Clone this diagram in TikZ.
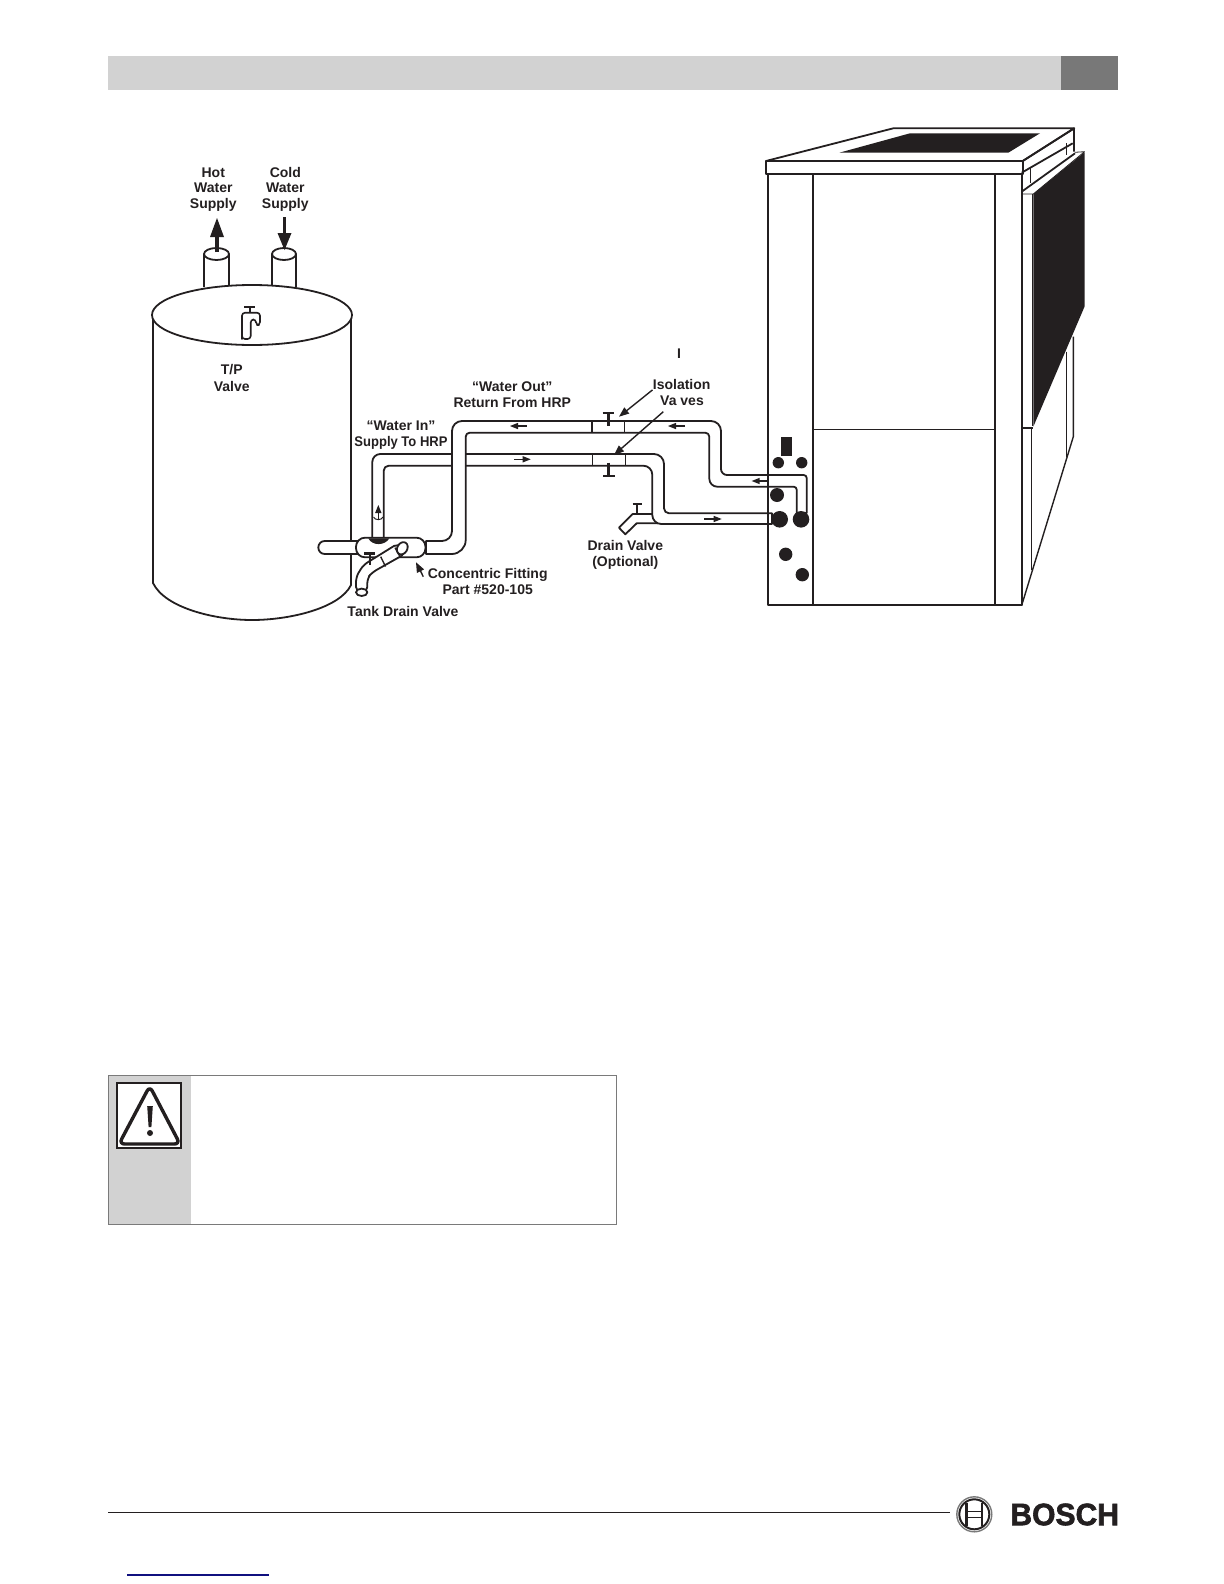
\documentclass[tikz,border=0pt]{standalone}
\usepackage{fontspec}
\setmainfont{Liberation Sans}
\newfontfamily\brandfont[FakeBold=2]{Liberation Sans Bold}
\usetikzlibrary{positioning}
\definecolor{headgray}{HTML}{D2D2D2}
\definecolor{tabgray}{HTML}{787878}
\definecolor{boxgray}{HTML}{7A7A7A}
\definecolor{inkblack}{HTML}{231F20}
\definecolor{linknavy}{HTML}{10107F}
\begin{document}
\begin{tikzpicture}[x=0.5pt,y=0.5pt]
	\tikzstyle{every node}+=[inner sep=0pt]
	\tikzstyle{lbl}=[font=\fontsize{7}{8}\selectfont\bfseries, text=inkblack, align=center, text height=5.2pt, text depth=0pt]
	\tikzstyle{outline}=[draw=inkblack, line width=0.9pt, line join=round]
	\tikzstyle{pipe}=[outline, fill=white]
	\tikzstyle{thin arrow}=[draw=inkblack, line width=0.7pt]
	\useasboundingbox (0,0) rectangle (1224,-1584);
	\fill [headgray] (108,-56) rectangle (1061,-90);
	\fill [tabgray] (1061,-56) rectangle (1118,-90);
	\draw [outline] (153,-318) -- (153,-583) .. controls (165,-608) and (215,-620) .. (252,-620) .. controls (290,-620) and (340,-608) .. (351,-585) -- (351,-318);
	\draw [pipe] (204,-287) -- (204,-254) arc (180:0:12.5 and 6) -- (229,-287);
	\draw [outline] (204,-254) arc (180:360:12.5 and 6);
	\draw [pipe] (272,-287) -- (272,-254) arc (180:0:12 and 6) -- (296,-287);
	\draw [outline] (272,-254) arc (180:360:12 and 6);
	\draw [pipe] (252,-315) ellipse (100 and 30);
	\draw [inkblack, line width=1.6pt] (217,-252) -- (217,-235);
	\fill [inkblack] (217,-218) -- (224,-237) -- (210,-237) -- cycle;
	\draw [inkblack, line width=1.6pt] (284.5,-217) -- (284.5,-235);
	\fill [inkblack] (284.5,-250) -- (291.5,-233) -- (277.5,-233) -- cycle;
	\node [lbl] (hotline1) at (213.3,-172) {Hot};
	\node [lbl] (hotline2) at (213.3,-187.7) {Water};
	\node [lbl] (hotline3) at (213.3,-203.3) {Supply};
	\node [lbl] (coldline1) at (285.3,-172) {Cold};
	\node [lbl] (coldline2) at (285.3,-187.7) {Water};
	\node [lbl] (coldline3) at (285.3,-203.3) {Supply};
	\draw [outline, rounded corners=1.5pt, line width=0.8pt] (242,-336) -- (242,-312.7) -- (260,-312.7) -- (260,-325) -- (256,-325) -- (256,-319.5) -- (250.7,-319.5) -- (250.7,-339) -- (242,-339) -- cycle;
	\draw [inkblack, line width=0.9pt] (244.3,-307.3) -- (255,-307.3);
	\draw [inkblack, line width=0.9pt] (250,-307.3) -- (250,-313);
	\node [lbl] (tpline1) at (231.7,-369.3) {T/P};
	\node [lbl] (tpline2) at (231.7,-386.3) {Valve};
	\draw [pipe] (632.7,-514) -- (619,-527.7) -- (625.3,-534.3) -- (636.7,-523.3) -- (658,-523.3) -- (658,-514) -- cycle;
	\draw [pipe] (372.3,-542) [rounded corners=4pt] -- (372.3,-454) [rounded corners=5pt] -- (664,-454) [rounded corners=2.5pt] -- (664,-513.3) [sharp corners] -- (772,-513.3) -- (772,-524) [rounded corners=4.5pt] -- (652.3,-524) -- (652.3,-465.7) [rounded corners=2.5pt] -- (383.7,-465.7) [sharp corners] -- (383.7,-542) -- cycle;
	\draw [pipe] (426,-541) [rounded corners=5pt] -- (452,-541) -- (452,-421) -- (721,-421) [rounded corners=3pt] -- (721,-475) [rounded corners=1.5pt] -- (806.7,-475) [sharp corners] -- (806.7,-513) -- (796.7,-513) [rounded corners=1.5pt] -- (796.7,-486.7) [rounded corners=4pt] -- (709.3,-486.7) [rounded corners=2pt] -- (709.3,-432.7) -- (465.7,-432.7) [rounded corners=7pt] -- (465.7,-554) [sharp corners] -- (426,-554) -- cycle;
	\draw [outline, line width=0.7pt] (592,-421) -- (592,-432.7);
	\draw [outline, line width=0.7pt] (624.3,-421) -- (624.3,-432.7);
	\draw [outline, line width=0.7pt] (592.3,-454) -- (592.3,-465.7);
	\draw [outline, line width=0.7pt] (625.3,-454) -- (625.3,-465.7);
	\draw [inkblack, line width=1.2pt] (602.7,-412.7) -- (614,-412.7);
	\draw [inkblack, line width=1.4pt] (608.3,-412.7) -- (608.3,-426);
	\draw [inkblack, line width=1.2pt] (603,-476) -- (614.5,-476);
	\draw [inkblack, line width=1.4pt] (608.7,-462.7) -- (608.7,-476);
	\draw [thin arrow] (526.7,-426) -- (515,-426);
	\fill [inkblack] (510,-426) -- (518,-422.8) -- (518,-429.2) -- cycle;
	\draw [thin arrow] (685,-426) -- (673,-426);
	\fill [inkblack] (668,-426) -- (676,-422.8) -- (676,-429.2) -- cycle;
	\draw [thin arrow] (514,-459.3) -- (526,-459.3);
	\fill [inkblack] (530.7,-459.3) -- (522.7,-456.1) -- (522.7,-462.5) -- cycle;
	\draw [thin arrow] (768,-481) -- (757,-481);
	\fill [inkblack] (751.7,-481) -- (759.7,-477.8) -- (759.7,-484.2) -- cycle;
	\draw [thin arrow] (704,-519) -- (716,-519);
	\fill [inkblack] (721.7,-519) -- (713.7,-515.8) -- (713.7,-522.2) -- cycle;
	\draw [thin arrow] (378.3,-520) -- (378.3,-510);
	\fill [inkblack] (378.3,-505) -- (381.5,-513) -- (375.1,-513) -- cycle;
	\draw [outline, line width=0.5pt] (373.5,-517) .. controls (375,-520.5) and (381.5,-520.5) .. (383,-517);
	\draw [inkblack, line width=0.9pt] (632.7,-504) -- (642,-504);
	\draw [inkblack, line width=0.9pt] (637.3,-504) -- (637.3,-514);
	\draw [pipe, rounded corners=3.2pt] (380,-541) -- (318.3,-541) -- (318.3,-554) -- (380,-554) -- cycle;
	\draw [pipe, rounded corners=4.5pt] (356,-537.7) rectangle (425.5,-557.3);
	\fill [inkblack] (368.3,-538.3) -- (389.3,-538.3) .. controls (385,-546) and (372,-546) .. (368.3,-538.3);
	\draw [pipe, rounded corners=2.5pt] (398.3,-543.3) -- (363.3,-565) -- (356,-577) -- (356,-592) -- (367.3,-592) -- (367.3,-578.3) -- (372,-572.5) -- (406,-553.3) -- cycle;
	\draw [pipe, rotate around={-30:(402.3,-548.3)}] (402.3,-548.3) ellipse (5 and 6.5);
	\draw [outline, line width=0.7pt] (380.7,-556.7) -- (385.5,-566.5);
	\draw [outline, line width=0.7pt] (395,-547.7) -- (400,-556.7);
	\draw [pipe] (361.7,-592.3) ellipse (5.7 and 3.7);
	\draw [inkblack, line width=1.2pt] (364,-553.3) -- (375,-553.3);
	\draw [inkblack, line width=1.4pt] (370,-553.3) -- (370,-565);
	\node [lbl] (waterinline1) at (401,-425.7) {“Water In”};
	\node [lbl, xscale=0.93] (waterinline2) at (401,-441.7) {Supply To HRP};
	\node [lbl] (wateroutline1) at (512.3,-386.3) {“Water Out”};
	\node [lbl] (wateroutline2) at (512.3,-402.3) {Return From HRP};
	\node [lbl] (mark) at (679,-353.5) {I};
	\node [lbl] (isolation) at (681.7,-384.3) {Isolation};
	\node [lbl] (valves) at (682,-400) {Va ves};
	\coordinate (topvalve) at (619,-416.7);
	\coordinate (bottomvalve) at (614,-455);
	\coordinate (valvestail) at (663.3,-411.7);
	\draw [thin arrow] (isolation.south west) -- (625,-412);
	\fill [inkblack] (topvalve) -- (629.3,-413.5) -- (624.3,-407.3) -- cycle;
	\draw [thin arrow] (valvestail) -- (620,-449.7);
	\fill [inkblack] (bottomvalve) -- (624.1,-451.4) -- (618.9,-445.4) -- cycle;
	\node [lbl] (drainline1) at (625.3,-545) {Drain Valve};
	\node [lbl] (drainline2) at (625.3,-561) {(Optional)};
	\node [lbl] (fittingline1) at (487.7,-573.3) {Concentric Fitting};
	\node [lbl] (fittingline2) at (487.7,-589) {Part \#520-105};
	\node [lbl] (tankdrain) at (403,-611.3) {Tank Drain Valve};
	\coordinate (fittingtip) at (416,-562.3);
	\coordinate (fittingtail) at (423.3,-576.7);
	\draw [thin arrow] (fittingtail) -- (419.5,-569);
	\fill [inkblack] (fittingtip) -- (424.1,-569.4) -- (416.9,-573) -- cycle;
	\draw [outline] (766,-161) -- (893.3,-128.3) -- (1074.3,-128.3) -- (1022.7,-161);
	\fill [inkblack] (839.3,-152.7) -- (910,-133.3) -- (1040,-133.3) -- (1008.3,-152.7) -- cycle;
	\draw [outline, line width=1.1pt] (766,-161) rectangle (1022.7,-174.3);
	\draw [outline, line width=1.1pt] (767.7,-174.3) rectangle (1021.7,-605.3);
	\draw [outline] (813,-174.3) -- (813,-605.3);
	\draw [outline] (995,-174.3) -- (995,-605.3);
	\draw [outline, line width=0.7pt] (813,-429.3) -- (995,-429.3);
	\fill [inkblack] (1033.3,-194) -- (1084.5,-152.3) -- (1084.5,-306.7) -- (1033.3,-426.7) -- cycle;
	\draw [outline] (1021.7,-161.7) -- (1074,-128.3) -- (1074,-151.7);
	\draw [outline] (1021.7,-172.7) -- (1072.7,-143.3);
	\draw [outline] (1021.7,-191.7) -- (1075,-153.3);
	\draw [outline, line width=0.7pt] (1030.7,-168) -- (1030.7,-183);
	\draw [outline, line width=0.7pt] (1066.7,-143) -- (1066.7,-155);
	\draw [outline, line width=0.4pt] (1075,-152.3) -- (1084.5,-151.7) -- (1033.3,-194) -- (1021.7,-194);
	\draw [outline, line width=0.6pt] (1021.7,-194) -- (1021.7,-605.3);
	\draw [outline, line width=0.6pt] (1032.7,-194) -- (1032.7,-426);
	\draw [outline, line width=0.6pt] (1021.7,-428) -- (1033,-428);
	\draw [outline, line width=0.4pt] (1031,-428) -- (1031,-570);
	\draw [outline, line width=0.7pt] (1021.7,-605.3) -- (1073.3,-436.7) -- (1073.3,-336.7);
	\draw [outline, line width=0.4pt] (1066.7,-351.7) -- (1066.7,-456.7);
	\fill [inkblack] (781,-437) rectangle (792,-456);
	\fill [inkblack] (778.3,-462.7) circle (5.7);
	\fill [inkblack] (801.7,-462.7) circle (5.7);
	\fill [inkblack] (777,-495) circle (7);
	\fill [inkblack] (779.7,-519.3) circle (8.3);
	\fill [inkblack] (801,-519.3) circle (8.3);
	\fill [inkblack] (785.7,-554.3) circle (6.7);
	\fill [inkblack] (802.3,-574.7) circle (6.7);
	\fill [headgray] (108,-1075) rectangle (191,-1224);
	\draw [boxgray, line width=0.45pt] (108,-1075) rectangle (616,-1224);
	\draw [inkblack, fill=white, line width=1.1pt] (116.7,-1083.3) rectangle (181.3,-1148);
	\draw [inkblack, line width=1.7pt, rounded corners=2.8pt, line join=round] (149.7,-1086) -- (119,-1144) -- (180,-1144) -- cycle;
	\fill [inkblack] (147.2,-1106) -- (152.8,-1106) -- (151.4,-1127) -- (148.6,-1127) -- cycle;
	\fill [inkblack] (150,-1133) circle (3);
	\draw [inkblack, line width=0.5pt] (108,-1512.7) -- (950,-1512.7);
	\draw [linknavy, line width=0.8pt] (127,-1575) -- (269,-1575);
	\draw [boxgray, line width=0.7pt] (974.3,-1514.3) circle (17.5);
	\draw [inkblack, line width=1pt] (974.3,-1514.3) circle (15);
	\fill [white] (974.3,-1514.3) circle (12.5);
	\draw [inkblack, line width=1.3pt] (966.5,-1526) -- (966.5,-1503);
	\draw [inkblack, line width=1.3pt] (982,-1526) -- (982,-1503);
	\draw [inkblack, line width=0.8pt] (966.5,-1511.5) -- (982,-1511.5);
	\draw [inkblack, line width=0.8pt] (966.5,-1517.5) -- (982,-1517.5);
	\node [font=\fontsize{15.5}{16}\brandfont, text=inkblack, anchor=west, xscale=0.97] (brand) at (1010,-1514.5) {BOSCH};
\end{tikzpicture}
\end{document}
